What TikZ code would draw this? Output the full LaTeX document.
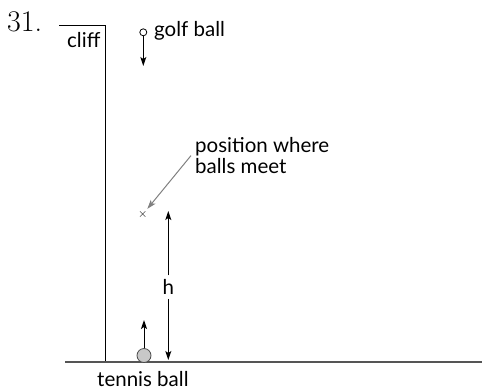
\documentclass[tikz,border=0pt]{standalone}
\usepackage{fontspec}
\setsansfont{Lato}
\usetikzlibrary{arrows.meta}
\definecolor{ballgray}{HTML}{C8C8C8}
\definecolor{groundgray}{HTML}{555555}
\definecolor{pointergray}{HTML}{808080}
\tikzset{
  lbl/.style={font=\sffamily\fontsize{20.5}{20.5}\selectfont, inner sep=0pt, align=left},
  ball/.style={circle, draw=black, line width=0.8pt, inner sep=0pt},
  arrow/.style={-{Stealth[length=9pt, width=6pt, inset=2pt]}, line width=1pt, draw=black},
  pointer/.style={-{Stealth[length=9pt, width=6pt, inset=2pt]}, line width=1pt, draw=pointergray}
}

\begin{document}
\begin{tikzpicture}[x=1pt, y=-1pt]
  \useasboundingbox (0,0) rectangle (482,389);

  % problem number
  \node[anchor=base west, inner sep=0pt, font=\fontsize{30}{30}\selectfont] (num) at (7,31) {31.};

  % cliff and ground
  \draw[line width=1pt] (59,25) -- (105,25) -- (105,362);
  \draw[groundgray, line width=1.6pt] (65,362) -- (482,362);
  \node[lbl, anchor=base west] (cliff) at (67,47) {cliff};

  % golf ball
  \node[ball, minimum size=7pt, fill=white] (golf) at (143.3,32.3) {};
  \coordinate (golfend) at (143.3,66);
  \draw[arrow] (golf) -- (golfend);
  \node[lbl, anchor=base west] (golflbl) at (154,36) {golf ball};

  % meeting point
  \node[inner sep=1.5pt, font=\fontsize{13}{13}\selectfont] (meet) at (142.7,214.5) {$\times$};
  \node[lbl, anchor=north west] (meetlbl) at (195,137.5) {position where\\balls meet};
  \draw[pointer] ([xshift=-4pt]meetlbl.west) -- (meet);

  % height
  \coordinate (htop) at (168.3,211);
  \coordinate (hbot) at (168.3,360);
  \node[lbl, fill=white, inner ysep=4pt] (hlbl) at (168.3,287) {h};
  \draw[arrow] (hlbl) -- (htop);
  \draw[arrow] (hlbl) -- (hbot);

  % tennis ball
  \node[ball, minimum size=14pt, fill=ballgray, draw=black!70] (tennis) at (144,355.5) {};
  \coordinate (tennisend) at (144,320);
  \draw[arrow] (tennis) -- (tennisend);
  \node[lbl, anchor=base west] (tennislbl) at (97,386) {tennis ball};
\end{tikzpicture}
\end{document}
